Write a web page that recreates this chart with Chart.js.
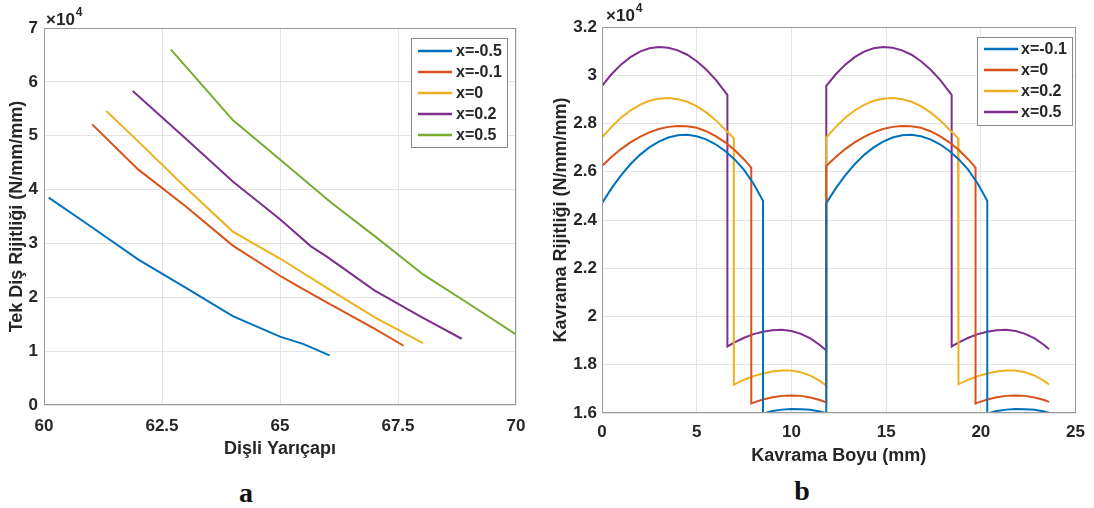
<!DOCTYPE html>
<html>
<head>
<meta charset="utf-8">
<script src="https://cdn.jsdelivr.net/npm/chart.js@4"></script>
<style>
body { margin: 0; background: #fff; width: 1094px; height: 508px; position: relative; overflow: hidden; }
#ca { position: absolute; left: 0; top: 0; }
#cb { position: absolute; left: 540px; top: 0; }
.lbl { position: absolute; font: bold 28px "Liberation Serif", serif; line-height: 28px; color: #111; transform: translateX(-50%); }
</style>
</head>
<body>
<canvas id="ca" width="540" height="460"></canvas>
<canvas id="cb" width="554" height="470"></canvas>
<div class="lbl" style="left:246px;top:479px">a</div>
<div class="lbl" style="left:802px;top:477px">b</div>
<script>
// chart a : Dişli Yarıçapı vs Tek Diş Rijitliği (x10^4)
var aLabels = ["x=-0.5", "x=-0.1", "x=0", "x=0.2", "x=0.5"];
var aX_m05 = [60.1, 61, 62, 63, 64, 65, 65.5, 66.05];
var aY_m05 = [3.85, 3.31, 2.70, 2.18, 1.65, 1.27, 1.13, 0.92];
var aX_m01 = [61.02, 62, 63, 64, 65, 65.35, 66, 67, 67.62];
var aY_m01 = [5.21, 4.37, 3.69, 2.96, 2.40, 2.22, 1.90, 1.42, 1.10];
var aX_0 = [61.32, 62, 63, 64, 65, 66, 67, 68.03];
var aY_0 = [5.46, 4.89, 4.04, 3.22, 2.72, 2.17, 1.63, 1.15];
var aX_02 = [61.88, 63, 64, 65, 65.65, 66, 67, 68, 68.85];
var aY_02 = [5.83, 4.95, 4.15, 3.45, 2.95, 2.75, 2.13, 1.63, 1.23];
var aX_05 = [62.69, 64, 65, 66.08, 67, 68.04, 69, 70];
var aY_05 = [6.60, 5.29, 4.56, 3.76, 3.14, 2.42, 1.88, 1.31];

// chart b : Kavrama Boyu vs Kavrama Rijitliği (x10^4)
var bLabels = ["x=-0.1", "x=0", "x=0.2", "x=0.5"];
var bX_m01 = [0,0.5,1,1.5,2,2.5,3,3.5,4,4.5,5,5.5,6,6.5,7,7.5,8,8.5,
  8.5,9,9.5,10,10.5,11,11.5,11.84,
  11.84,12.34,12.84,13.34,13.84,14.34,14.84,15.34,15.84,16.34,16.84,17.34,17.84,18.34,18.84,19.34,19.84,20.34,
  20.34,20.84,21.34,21.84,22.34,22.84,23.34,23.6];
var bY_m01 = [2.470,2.531,2.585,2.631,2.670,2.701,2.725,2.742,2.751,2.753,2.747,2.734,2.714,2.686,2.651,2.608,2.550,2.480,
  1.598,1.608,1.614,1.617,1.616,1.613,1.606,1.599,
  2.470,2.531,2.585,2.631,2.670,2.701,2.725,2.742,2.751,2.753,2.747,2.734,2.714,2.686,2.651,2.608,2.550,2.480,
  1.598,1.608,1.614,1.617,1.616,1.613,1.606,1.601];
var bX_0 = [0,0.5,1,1.5,2,2.5,3,3.5,4,4.5,5,5.5,6,6.5,7,7.5,7.88,
  7.88,8,8.5,9,9.5,10,10.5,11,11.5,11.84,
  11.84,12.34,12.84,13.34,13.84,14.34,14.84,15.34,15.84,16.34,16.84,17.34,17.84,18.34,18.84,19.34,19.72,
  19.72,19.84,20.34,20.84,21.34,21.84,22.34,22.84,23.34,23.6];
var bY_0 = [2.624,2.661,2.694,2.722,2.745,2.763,2.777,2.786,2.790,2.789,2.782,2.768,2.748,2.722,2.690,2.651,2.617,
  1.639,1.643,1.656,1.665,1.671,1.673,1.671,1.664,1.654,1.644,
  2.624,2.661,2.694,2.722,2.745,2.763,2.777,2.786,2.790,2.789,2.782,2.768,2.748,2.722,2.690,2.651,2.617,
  1.639,1.643,1.656,1.665,1.671,1.673,1.671,1.664,1.654,1.646];
var bX_02 = [0,0.5,1,1.5,2,2.5,3,3.5,4,4.5,5,5.5,6,6.5,6.96,
  6.96,7,7.5,8,8.5,9,9.5,10,10.5,11,11.5,11.84,
  11.84,12.34,12.84,13.34,13.84,14.34,14.84,15.34,15.84,16.34,16.84,17.34,17.84,18.34,18.80,
  18.80,18.84,19.34,19.84,20.34,20.84,21.34,21.84,22.34,22.84,23.34,23.6];
var bY_02 = [2.742,2.786,2.824,2.854,2.877,2.894,2.903,2.906,2.901,2.890,2.872,2.846,2.814,2.775,2.739,
  1.717,1.719,1.738,1.753,1.764,1.772,1.776,1.776,1.769,1.755,1.733,1.714,
  2.742,2.786,2.824,2.854,2.877,2.894,2.903,2.906,2.901,2.890,2.872,2.846,2.814,2.775,2.739,
  1.717,1.719,1.738,1.753,1.764,1.772,1.776,1.776,1.769,1.755,1.733,1.718];
var bX_05 = [0,0.5,1,1.5,2,2.5,3,3.5,4,4.5,5,5.5,6,6.62,
  6.62,7,7.5,8,8.5,9,9.5,10,10.5,11,11.5,11.84,
  11.84,12.34,12.84,13.34,13.84,14.34,14.84,15.34,15.84,16.34,16.84,17.34,17.84,18.46,
  18.46,18.84,19.34,19.84,20.34,20.84,21.34,21.84,22.34,22.84,23.34,23.6];
var bY_05 = [2.956,3.004,3.044,3.075,3.098,3.112,3.117,3.114,3.103,3.085,3.058,3.024,2.982,2.919,
  1.876,1.893,1.912,1.927,1.937,1.943,1.945,1.940,1.928,1.909,1.882,1.859,
  2.956,3.004,3.044,3.075,3.098,3.112,3.117,3.114,3.103,3.085,3.058,3.024,2.982,2.919,
  1.876,1.893,1.912,1.927,1.937,1.943,1.945,1.940,1.928,1.909,1.882,1.864];

var colors = ["#0072BD", "#D95319", "#EDB120", "#7E2F8E", "#77AC30"];
var txt = "#262626";
var gridCol = "#e4e4e4";
var fam = '"Liberation Sans", Arial, sans-serif';

function pts(xs, ys) {
  return xs.map(function (x, i) { return { x: x, y: ys[i] }; });
}

function makeSets(labels, xs, ys) {
  return labels.map(function (l, i) {
    return { label: l, data: pts(xs[i], ys[i]), borderColor: colors[i], backgroundColor: colors[i],
      borderWidth: 2, pointRadius: 0, tension: 0, fill: false };
  });
}

// axes box, x10^4 note and legend inside the plot
var matlabBox = {
  id: "matlabBox",
  afterDatasetsDraw: function (chart, args, o) {
    var ctx = chart.ctx, a = chart.chartArea;
    ctx.save();
    ctx.strokeStyle = "#9a9a9a";
    ctx.lineWidth = 1;
    ctx.strokeRect(Math.round(a.left) + 0.5, Math.round(a.top) + 0.5, Math.round(a.width) - 1, Math.round(a.height) - 1);

    ctx.fillStyle = txt;
    ctx.textBaseline = "alphabetic";
    ctx.textAlign = "left";
    ctx.font = "bold 17px " + fam;
    ctx.fillText("\u00d710", o.expX, o.expY);
    var w = ctx.measureText("\u00d710").width;
    ctx.font = "bold 12px " + fam;
    ctx.fillText("4", o.expX + w + 1, o.expY - 9);

    var L = o.legend;
    ctx.fillStyle = "#fff";
    ctx.fillRect(L.x, L.y, L.w, L.h);
    ctx.strokeStyle = "#8a8a8a";
    ctx.strokeRect(L.x + 0.5, L.y + 0.5, L.w, L.h);
    ctx.font = "bold 16px " + fam;
    ctx.textBaseline = "middle";
    chart.data.datasets.forEach(function (d, i) {
      var y = L.y + L.row0 + i * L.dy;
      ctx.strokeStyle = d.borderColor;
      ctx.lineWidth = 2.5;
      ctx.beginPath();
      ctx.moveTo(L.x + L.l0, y);
      ctx.lineTo(L.x + L.l1, y);
      ctx.stroke();
      ctx.fillStyle = txt;
      ctx.fillText(d.label, L.x + L.t, y + 1);
    });
    ctx.restore();
  }
};

function scaleOpts(min, max, step, title, titlePad, tickPad, size) {
  return {
    type: "linear", min: min, max: max,
    ticks: { stepSize: step, padding: tickPad, color: txt, font: { family: fam, size: 17, weight: "bold" },
      callback: function (v) { return String(Number(v.toFixed(2))); } },
    grid: { color: gridCol, drawTicks: false },
    border: { display: false },
    title: { display: true, text: title, color: txt, padding: titlePad, font: { family: fam, size: 18, weight: "bold" } },
    afterFit: size
  };
}

new Chart("ca", {
  type: "line",
  data: { datasets: makeSets(aLabels, [aX_m05, aX_m01, aX_0, aX_02, aX_05], [aY_m05, aY_m01, aY_0, aY_02, aY_05]) },
  options: {
    responsive: false,
    animation: false,
    layout: { padding: { top: 28, right: 24, left: 0, bottom: 0 } },
    plugins: {
      legend: { display: false },
      tooltip: { enabled: false },
      matlabBox: { expX: 46, expY: 25, legend: { x: 411, y: 38, w: 96, h: 109, row0: 13, dy: 21, l0: 7, l1: 41, t: 45 } }
    },
    scales: {
      x: scaleOpts(60, 70, 2.5, "Dişli Yarıçapı", { top: 0, bottom: 0 }, 11, function (s) { s.height = 55; }),
      y: scaleOpts(0, 7, 1, "Tek Diş Rijitliği (N/mm/mm)", { top: 6, bottom: 0 }, 6, function (s) { s.width = 44; })
    }
  },
  plugins: [matlabBox]
});

new Chart("cb", {
  type: "line",
  data: { datasets: makeSets(bLabels, [bX_m01, bX_0, bX_02, bX_05], [bY_m01, bY_0, bY_02, bY_05]) },
  options: {
    responsive: false,
    animation: false,
    layout: { padding: { top: 27, right: 18, left: 0, bottom: 3 } },
    plugins: {
      legend: { display: false },
      tooltip: { enabled: false },
      matlabBox: { expX: 66, expY: 21, legend: { x: 437, y: 37, w: 95, h: 88, row0: 12, dy: 21, l0: 7, l1: 41, t: 44 } }
    },
    scales: {
      x: scaleOpts(0, 25, 5, "Kavrama Boyu (mm)", { top: 0, bottom: 0 }, 9, function (s) { s.height = 54; }),
      y: scaleOpts(1.6, 3.2, 0.2, "Kavrama Rijitliği (N/mm/mm)", { top: 10, bottom: 0 }, 5, function (s) { s.width = 62; })
    }
  },
  plugins: [matlabBox]
});
</script>
</body>
</html>
